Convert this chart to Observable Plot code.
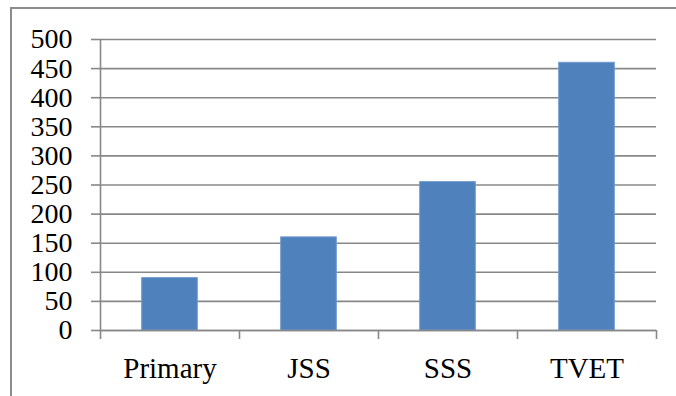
<!DOCTYPE html>
<html>
<head>
<meta charset="utf-8">
<script src="https://cdn.jsdelivr.net/npm/d3@7"></script>
<script src="https://cdn.jsdelivr.net/npm/@observablehq/plot@0.6"></script>
<style>
  html, body { margin: 0; padding: 0; background: #fff; }
  #wrap { position: relative; width: 676px; height: 396px; overflow: hidden; }
  #border { position: absolute; left: 10px; top: 7px; right: -5px; bottom: -5px;
            border-left: 2px solid #8c8c8c; border-top: 2px solid #8c8c8c; pointer-events: none; }
</style>
</head>
<body>
<div id="wrap"><div id="border"></div></div>
<script>
const categories = ["Primary", "JSS", "SSS", "TVET"];
const values = [90, 160, 255, 460];
const yTicks = [0, 50, 100, 150, 200, 250, 300, 350, 400, 450, 500];

const data = categories.map((c, i) => ({category: c, index: i, value: values[i]}));
const gray = "#888888";
const barWidth = 0.4;

const chart = Plot.plot({
  width: 676,
  height: 396,
  marginTop: 39,
  marginRight: 20,
  marginBottom: 66,
  marginLeft: 100,
  style: {fontFamily: "'Liberation Serif', serif", fontSize: "28px", color: "black", background: "transparent"},
  x: {type: "linear", domain: [0, categories.length], axis: null, label: null},
  y: {domain: [0, 500], axis: null, label: null},
  marks: [
    Plot.gridY(yTicks, {stroke: gray, strokeOpacity: 1, strokeWidth: 1.6}),
    Plot.rectY(data, {
      x1: d => d.index + (1 - barWidth) / 2,
      x2: d => d.index + (1 + barWidth) / 2,
      y: "value",
      fill: "#4F81BD",
      stroke: "#7199cf",
      strokeWidth: 1
    }),
    Plot.ruleX([0], {stroke: gray, strokeWidth: 1.6}),
    Plot.ruleY([0], {stroke: gray, strokeWidth: 1.6}),
    Plot.axisY({ticks: yTicks, label: null, tickSize: 9, tickPadding: 19, stroke: gray, strokeWidth: 1.6, fill: "black", tickFormat: d => String(d)}),
    Plot.axisX({ticks: d3.range(0, categories.length + 1), label: null, tickSize: 9, stroke: gray, strokeWidth: 1.6, tickFormat: () => ""}),
    Plot.axisX({ticks: categories.map((c, i) => i + 0.5), label: null, tickSize: 0, tickPadding: 27, fill: "black",
                fontSize: 29, tickFormat: v => categories[Math.floor(v)]})
  ]
});
document.getElementById("wrap").prepend(chart);
chart.style.position = "absolute";
chart.style.left = "0";
chart.style.top = "0";
</script>
</body>
</html>
